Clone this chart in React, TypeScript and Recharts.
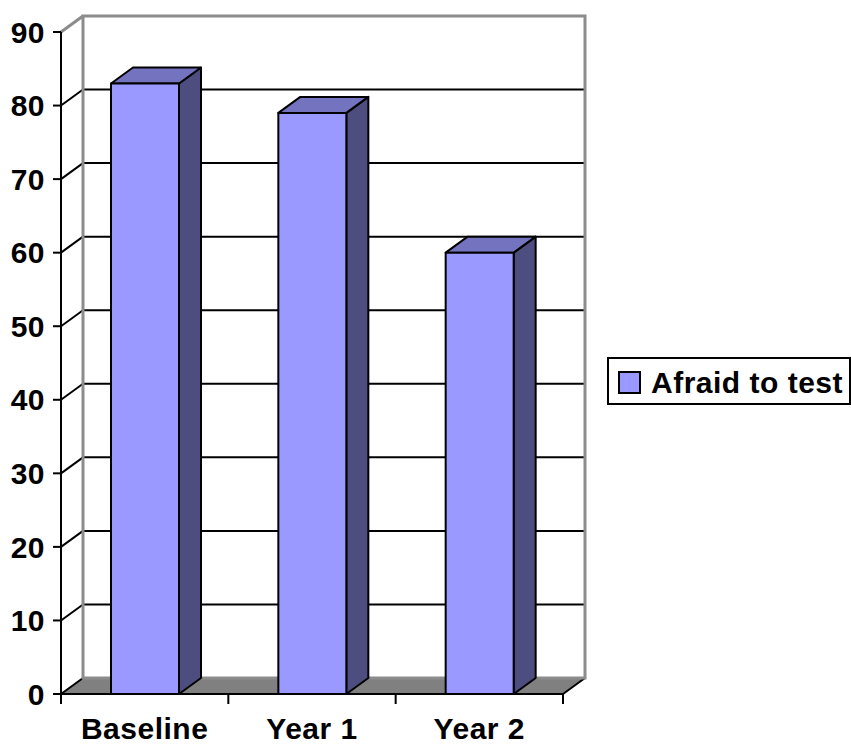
import React from "react";
import {
  BarChart,
  Bar,
  XAxis,
  YAxis,
  CartesianGrid,
  Customized,
} from "recharts";

const categories = ["Baseline", "Year 1", "Year 2"];
const afraidToTest = [83, 79, 60];
const yTicks = [0, 10, 20, 30, 40, 50, 60, 70, 80, 90];
const seriesName = "Afraid to test";

const data = categories.map((name, i) => ({ name, value: afraidToTest[i] }));

// depth of the fake 3d box
const DX = 22;
const DY = 16;

const colors = {
  front: "#9999ff",
  top: "#7373bf",
  side: "#4d4d80",
  floor: "#808080",
  wall: "#8c8c8c",
  line: "#000000",
};

const font = '"Liberation Sans", Arial, sans-serif';
const fontSize = 30;
const letterSpacing = 0.5;

const Box3D = (props: any) => {
  const { x, y, width: w, height: h } = props;
  if (w == null || h == null) return null;
  return (
    <g stroke={colors.line} strokeWidth={2} strokeLinejoin="round">
      <polygon
        points={`${x + w},${y} ${x + w + DX},${y - DY} ${x + w + DX},${y + h - DY} ${x + w},${y + h}`}
        fill={colors.side}
      />
      <polygon
        points={`${x},${y} ${x + w},${y} ${x + w + DX},${y - DY} ${x + DX},${y - DY}`}
        fill={colors.top}
      />
      <rect x={x} y={y} width={w} height={h} fill={colors.front} />
    </g>
  );
};

const GridLine = (props: any) => {
  const { x1, x2, y1, y, height } = props;
  const bottom = y + height;
  if (Math.abs(y1 - bottom) < 1) {
    // floor
    return (
      <g>
        <polygon
          points={`${x1},${y1} ${x2},${y1} ${x2 + DX},${y1 - DY} ${x1 + DX},${y1 - DY}`}
          fill={colors.floor}
          stroke="none"
        />
        <line x1={x1 + DX} y1={y1 - DY} x2={x2 + DX} y2={y1 - DY} stroke="#aaaaaa" strokeWidth={2} />
        <line x1={x1} y1={y1} x2={x1 + DX} y2={y1 - DY} stroke={colors.line} strokeWidth={2} />
        <line x1={x2} y1={y1} x2={x2 + DX} y2={y1 - DY} stroke={colors.line} strokeWidth={2} />
      </g>
    );
  }
  if (Math.abs(y1 - y) < 1) {
    // top: back wall outline
    return (
      <g stroke={colors.wall} strokeWidth={3} fill="none">
        <line x1={x1} y1={y1} x2={x1 + DX} y2={y1 - DY} />
        <rect x={x1 + DX} y={y1 - DY} width={x2 - x1} height={bottom - y1} />
      </g>
    );
  }
  return (
    <g stroke={colors.line} strokeWidth={2}>
      <line x1={x1} y1={y1} x2={x1 + DX} y2={y1 - DY} />
      <line x1={x1 + DX} y1={y1 - DY} x2={x2 + DX} y2={y1 - DY} />
    </g>
  );
};

const CategoryTick = (props: any) => {
  const { x, y, payload, width, visibleTicksCount, index } = props;
  const band = width / visibleTicksCount;
  const axisY = y - 24;
  return (
    <g>
      <line x1={x - band / 2} y1={axisY} x2={x - band / 2} y2={axisY + 10} stroke="#000" strokeWidth={2} />
      {index === visibleTicksCount - 1 && (
        <line x1={x + band / 2} y1={axisY} x2={x + band / 2} y2={axisY + 10} stroke="#000" strokeWidth={2} />
      )}
      <text
        x={x}
        y={y}
        dy="0.71em"
        textAnchor="middle"
        fill="#000"
        fontSize={fontSize}
        letterSpacing={letterSpacing}
        fontWeight="bold"
        fontFamily={font}
      >
        {payload.value}
      </text>
    </g>
  );
};

const LegendBox = () => (
  <g>
    <rect x={608} y={358} width={242} height={46} fill="#fff" stroke="#000" strokeWidth={2} />
    <rect x={619} y={372} width={21} height={21} fill={colors.front} stroke="#000" strokeWidth={2} />
    <text
      x={651}
      y={393}
      fontSize={fontSize}
      letterSpacing={letterSpacing}
      fontWeight="bold"
      fontFamily={font}
      fill="#000"
    >
      {seriesName}
    </text>
  </g>
);

export default function App() {
  return (
    <div style={{ position: "absolute", left: 0, top: 0, background: "#fff" }}>
      <BarChart
        width={851}
        height={745}
        data={data}
        margin={{ top: 32, right: 288, bottom: 0, left: 0 }}
      >
        <CartesianGrid horizontal={GridLine} vertical={false} />
        <XAxis
          dataKey="name"
          height={51}
          axisLine={{ stroke: "#000", strokeWidth: 2 }}
          tickLine={false}
          tickSize={10}
          tickMargin={14}
          interval={0}
          tick={<CategoryTick />}
        />
        <YAxis
          width={61}
          domain={[0, 90]}
          ticks={yTicks}
          interval={0}
          axisLine={{ stroke: "#000", strokeWidth: 2 }}
          tickLine={{ stroke: "#000", strokeWidth: 2 }}
          tickSize={8}
          tickMargin={8}
          tick={{ fill: "#000", fontSize, letterSpacing, fontWeight: "bold", fontFamily: font }}
        />
        <Bar
          dataKey="value"
          name={seriesName}
          barSize={68}
          fill={colors.front}
          shape={<Box3D />}
          isAnimationActive={false}
        />
        <Customized component={<LegendBox />} />
      </BarChart>
    </div>
  );
}
